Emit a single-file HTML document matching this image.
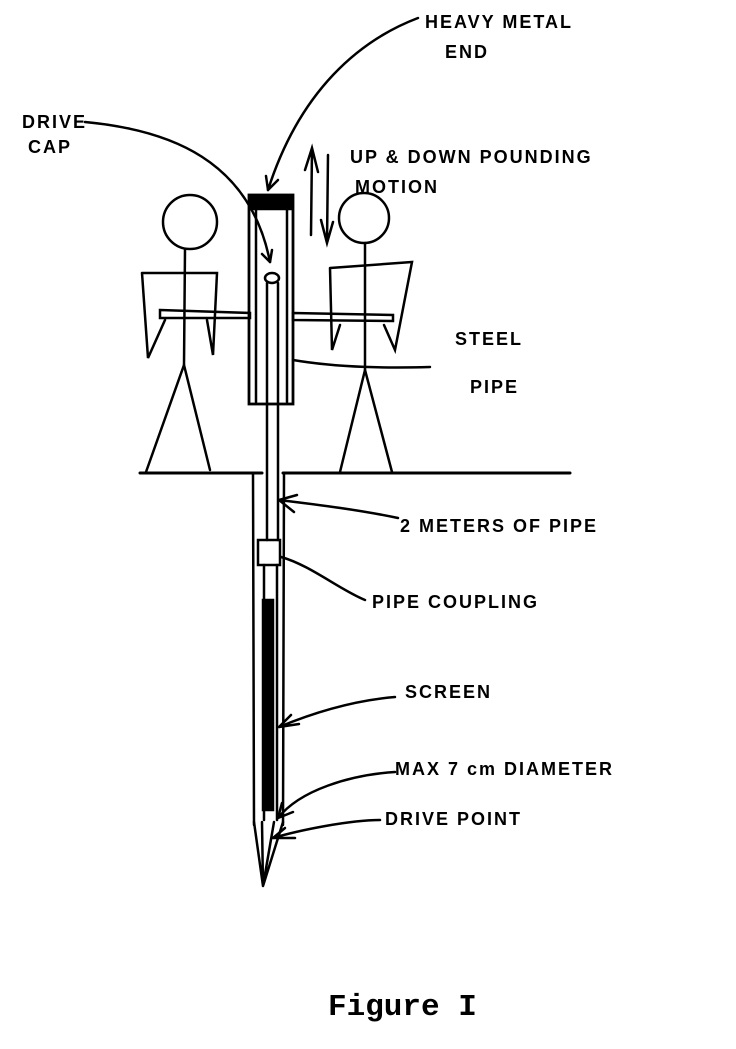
<!DOCTYPE html>
<html><head><meta charset="utf-8"><style>
body{margin:0;background:#fff}
svg{display:block}
text{font-family:"Liberation Sans",sans-serif;font-size:18px;font-weight:bold;letter-spacing:2px;fill:#000}
</style></head><body>
<svg width="736" height="1049" viewBox="0 0 736 1049" fill="none" stroke="#000" stroke-width="2.5" stroke-linecap="round" style="position:absolute;left:0;top:0">
<path d="M418 18 C360 40 300 90 268 190" />
<path d="M268 190 l-2 -14 M268 190 l10 -10"/>
<path d="M85 122 C170 130 250 160 270 262"/>
<path d="M270 262 l-8 -8 M270 262 l2 -12"/>
<path d="M311 235 L312 148 M305 170 L312 148 L318 172"/>
<path d="M328 155 L327 243 M321 220 L327 243 L333 222"/>
<rect x="249" y="195" width="44" height="209" stroke-width="2.8"/>
<rect x="251" y="196" width="40" height="13" fill="#000"/>
<line x1="256" y1="210" x2="256" y2="402"/>
<line x1="287" y1="210" x2="287" y2="402"/>
<ellipse cx="272" cy="278" rx="7" ry="5"/>
<line x1="267" y1="283" x2="267" y2="540"/>
<line x1="278" y1="283" x2="278" y2="540"/>
<circle cx="190" cy="222" r="27"/>
<line x1="185" y1="249" x2="184" y2="365"/>
<path d="M142 273 L217 273 L213 355 L207 320 M142 273 L148 358 L165 320"/>
<path d="M160 310 L250 313 L250 318 L160 318 Z"/>
<path d="M184 365 L146 472 M184 365 L210 470"/>
<circle cx="364" cy="218" r="25"/>
<line x1="365" y1="243" x2="365" y2="370"/>
<path d="M330 268 L412 262 L395 350 L384 325 M330 268 L332 350 L340 325"/>
<path d="M293 313 L393 315 L393 321 L293 320 Z"/>
<path d="M365 370 L340 472 M365 370 L392 472"/>
<path d="M293 360 C340 368 390 368 430 367"/>
<line x1="140" y1="473" x2="262" y2="473" stroke-width="3"/>
<line x1="283" y1="473" x2="570" y2="473" stroke-width="3"/>
<line x1="253" y1="473" x2="254" y2="825"/>
<line x1="284" y1="473" x2="283" y2="825"/>
<rect x="258" y="540" width="22" height="25"/>
<line x1="264" y1="565" x2="264" y2="820"/>
<line x1="277" y1="565" x2="277" y2="820"/>
<rect x="263" y="600" width="10" height="210" fill="#000"/>
<path d="M254 822 L263 886 L283 822 M262 822 L263 886 M274 822 L263 886"/>
<path d="M279 500 C320 505 360 510 398 518 M279 500 l18 -5 M279 500 l15 12"/>
<path d="M281 557 C310 565 340 590 365 600"/>
<path d="M279 727 C320 710 360 700 395 697 M279 727 l20 -3 M279 727 l12 -12"/>
<path d="M278 818 C300 790 350 775 395 772 M278 818 l15 -6 M278 818 l4 -15"/>
<path d="M273 838 C300 830 350 820 380 820 M273 838 l22 0 M273 838 l12 -10"/>
<g stroke="none">
<text x="425" y="28">HEAVY METAL</text>
<text x="445" y="58">END</text>
<text x="22" y="128">DRIVE</text>
<text x="28" y="153">CAP</text>
<text x="350" y="163">UP &amp; DOWN POUNDING</text>
<text x="355" y="193">MOTION</text>
<text x="455" y="345">STEEL</text>
<text x="470" y="393">PIPE</text>
<text x="400" y="532">2 METERS OF PIPE</text>
<text x="372" y="608">PIPE COUPLING</text>
<text x="405" y="698">SCREEN</text>
<text x="395" y="775">MAX 7 cm DIAMETER</text>
<text x="385" y="825">DRIVE POINT</text>
<text x="328" y="1015" style="font-family:'Liberation Mono',monospace;font-weight:bold;font-size:31px;letter-spacing:0">Figure I</text>
</g>
</svg>
</body></html>
